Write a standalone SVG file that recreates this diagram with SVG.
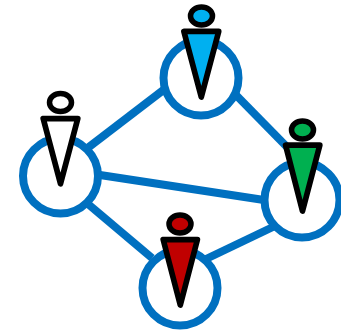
<svg xmlns="http://www.w3.org/2000/svg" width="341" height="334" viewBox="0 0 341 334">
<style>
.ring{fill:#fff;stroke:#0070C0;stroke-width:8}
.link{stroke:#0070C0;stroke-width:8;fill:none}
.fig{stroke:#000;stroke-width:5.7;stroke-linejoin:round}
.head{stroke:#000;stroke-width:5.5}
</style>
<rect width="341" height="334" fill="#fff"/>
<g id="connectors">
<line class="link" x1="85" y1="150" x2="166" y2="88"/>
<line class="link" x1="235" y1="94" x2="288" y2="148"/>
<line class="link" x1="100" y1="175" x2="264" y2="200"/>
<line class="link" x1="88" y1="204" x2="152" y2="258"/>
<line class="link" x1="206" y1="259" x2="275" y2="226"/>
</g>
<g id="node-top">
<circle class="ring" cx="201" cy="78" r="37.5"/>
<ellipse class="head" cx="201.5" cy="16" rx="11" ry="9" fill="#00B0F0"/>
<path class="fig" d="M183.9,31.4 L218.7,31.4 L201.3,97.1 Z" fill="#00B0F0"/>
</g>
<g id="node-left">
<circle class="ring" cx="60.5" cy="176" r="37.5"/>
<ellipse class="head" cx="60.5" cy="102.5" rx="11" ry="9" fill="#fff"/>
<path class="fig" d="M43.2,118.6 L77.8,118.6 L60.5,183.8 Z" fill="#fff"/>
</g>
<g id="node-right">
<circle class="ring" cx="302" cy="200" r="37.5"/>
<ellipse class="head" cx="302.5" cy="130" rx="11" ry="9" fill="#00B050"/>
<path class="fig" d="M285.6,145.2 L319.800,145.2 L302.5,211.1 Z" fill="#00B050"/>
</g>
<g id="node-bottom">
<circle class="ring" cx="180" cy="288" r="37.5"/>
<ellipse class="head" cx="180" cy="224" rx="11" ry="9" fill="#C00000"/>
<path class="fig" d="M163.2,239.6 L197.4,239.6 L180.3,305.1 Z" fill="#C00000"/>
</g>
</svg>
